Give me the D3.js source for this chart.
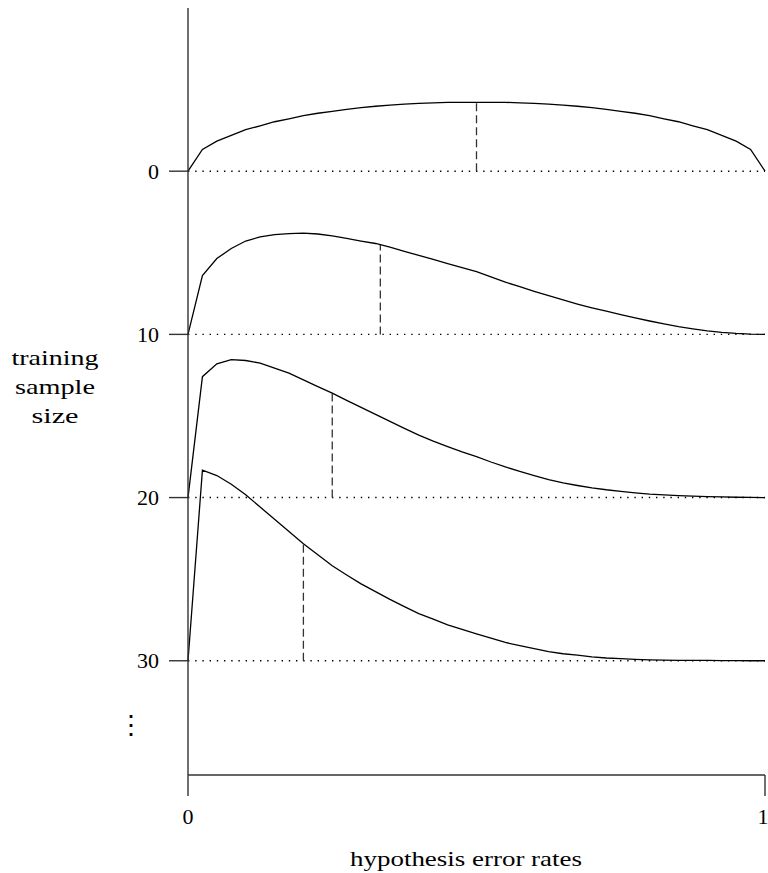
<!DOCTYPE html>
<html>
<head>
<meta charset="utf-8">
<script src="https://cdn.jsdelivr.net/npm/d3@7"></script>
<style>
  body { margin: 0; background: #fff; }
  text { font-family: "Liberation Serif", "DejaVu Serif", serif; fill: #000; }
</style>
</head>
<body>
<div id="chart"></div>
<script>
var width = 768, height = 873;

// error rate grid, one step = 0.025
var rates = d3.range(41).map(function(i) { return i / 40; });

// sample sizes and the mean of each posterior
var sampleSizes = [0, 10, 20, 30];
var means = [0.5, 1 / 3, 0.25, 0.2];

// curve heights, in sample-size units
var curve0 = [0, 1.33, 1.84, 2.20, 2.54, 2.78, 3.03, 3.21, 3.40, 3.55, 3.67, 3.79, 3.89, 3.98, 4.05, 4.11, 4.16, 4.19, 4.22, 4.22,
  4.22, 4.22, 4.22, 4.19, 4.16, 4.11, 4.05, 3.98, 3.89, 3.79, 3.67, 3.55, 3.40, 3.21, 3.03, 2.78, 2.54, 2.20, 1.84, 1.33, 0];
var curve10 = [0, 3.61, 4.65, 5.26, 5.72, 5.97, 6.11, 6.18, 6.21, 6.15, 6.03, 5.88, 5.72, 5.57, 5.34, 5.09, 4.84, 4.59, 4.34, 4.09,
  3.84, 3.52, 3.20, 2.92, 2.64, 2.37, 2.11, 1.86, 1.63, 1.42, 1.21, 1.01, 0.82, 0.64, 0.47, 0.34, 0.22, 0.12, 0.06, 0.02, 0];
var curve20 = [0, 7.41, 8.20, 8.45, 8.40, 8.24, 7.93, 7.62, 7.21, 6.80, 6.40, 5.96, 5.53, 5.10, 4.67, 4.24, 3.83, 3.46, 3.12, 2.80,
  2.51, 2.18, 1.88, 1.61, 1.35, 1.10, 0.90, 0.74, 0.60, 0.48, 0.38, 0.29, 0.21, 0.16, 0.12, 0.09, 0.06, 0.04, 0.02, 0.01, 0];
var curve30 = [0, 11.68, 11.35, 10.82, 10.18, 9.42, 8.67, 7.92, 7.17, 6.49, 5.82, 5.26, 4.71, 4.24, 3.76, 3.32, 2.89, 2.55, 2.20, 1.92,
  1.65, 1.38, 1.12, 0.93, 0.75, 0.56, 0.43, 0.34, 0.24, 0.17, 0.13, 0.09, 0.06, 0.04, 0.03, 0.02, 0.02, 0.01, 0.01, 0, 0];
var curves = [curve0, curve10, curve20, curve30];

var xTicks = [0, 1];
var yTicks = [0, 10, 20, 30];

var svg = d3.select("#chart").append("svg")
  .attr("width", width)
  .attr("height", height);

var x = d3.scaleLinear().domain([0, 1]).range([188, 765]);
var y = d3.scaleLinear().domain([-10, 37]).range([8, 775]);

// dotted baselines
svg.selectAll(".base").data(sampleSizes).enter().append("line")
  .attr("x1", x(0)).attr("x2", x(1))
  .attr("y1", function(d) { return y(d); })
  .attr("y2", function(d) { return y(d); })
  .attr("stroke", "#000")
  .attr("stroke-width", 1.4)
  .style("stroke-dasharray", "1.4, 5.8");

// mean markers
function heightAt(c, t) {
  var i = Math.min(39, Math.floor(t * 40));
  var f = t * 40 - i;
  return c[i] + (c[i + 1] - c[i]) * f;
}

svg.selectAll(".mean").data(sampleSizes).enter().append("line")
  .attr("x1", function(d, i) { return x(means[i]); })
  .attr("x2", function(d, i) { return x(means[i]); })
  .attr("y1", function(d) { return y(d); })
  .attr("y2", function(d, i) { return y(d - heightAt(curves[i], means[i])); })
  .attr("stroke", "#333")
  .attr("stroke-width", 1.3)
  .style("stroke-dasharray", "8, 4");

// posterior curves
var line = d3.line()
  .x(function(d) { return x(d[0]); })
  .y(function(d) { return y(d[1]); });

svg.selectAll(".curve").data(sampleSizes).enter().append("path")
  .attr("fill", "none")
  .attr("stroke", "#000")
  .attr("stroke-width", 1.3)
  .attr("d", function(d, i) {
    return line(rates.map(function(t, j) { return [t, d - curves[i][j]]; }));
  });

// axes
svg.append("line")
  .attr("x1", x(0)).attr("x2", x(0))
  .attr("y1", 8).attr("y2", 796)
  .attr("stroke", "#333").attr("stroke-width", 1.4);

svg.append("line")
  .attr("x1", x(0)).attr("x2", x(1))
  .attr("y1", 775).attr("y2", 775)
  .attr("stroke", "#333").attr("stroke-width", 1.4);

svg.append("line")
  .attr("x1", x(1)).attr("x2", x(1))
  .attr("y1", 775).attr("y2", 796)
  .attr("stroke", "#333").attr("stroke-width", 1.4);

svg.selectAll(".ytick").data(yTicks).enter().append("line")
  .attr("x1", 169).attr("x2", x(0))
  .attr("y1", function(d) { return y(d); })
  .attr("y2", function(d) { return y(d); })
  .attr("stroke", "#333").attr("stroke-width", 1.4);

svg.selectAll(".ylabel").data(yTicks).enter().append("text")
  .attr("x", 159)
  .attr("y", function(d) { return y(d); })
  .attr("dy", "0.35em")
  .attr("text-anchor", "end")
  .style("font-size", "22px")
  .text(function(d) { return d; });

svg.selectAll(".xlabel").data(xTicks).enter().append("text")
  .attr("x", function(d) { return d === 1 ? x(d) - 2 : x(d); })
  .attr("y", 816)
  .attr("dy", "0.35em")
  .attr("text-anchor", "middle")
  .style("font-size", "22px")
  .text(function(d) { return d; });

svg.append("text")
  .attr("x", 350)
  .attr("y", 858)
  .attr("dy", "0.35em")
  .attr("textLength", 232)
  .attr("lengthAdjust", "spacingAndGlyphs")
  .style("font-size", "22px")
  .text("hypothesis error rates");

var yTitle = ["training", "sample", "size"];
var yTitleWidth = [87, 80, 47];
svg.selectAll(".ytitle").data(yTitle).enter().append("text")
  .attr("x", function(d, i) { return 55 - yTitleWidth[i] / 2; })
  .attr("y", function(d, i) { return 357 + i * 29; })
  .attr("dy", "0.35em")
  .attr("textLength", function(d, i) { return yTitleWidth[i]; })
  .attr("lengthAdjust", "spacingAndGlyphs")
  .style("font-size", "22px")
  .text(function(d) { return d; });

svg.append("text")
  .attr("x", 131)
  .attr("y", 725)
  .attr("dy", "0.35em")
  .attr("text-anchor", "middle")
  .style("font-size", "26px")
  .text("⋮");
</script>
</body>
</html>
